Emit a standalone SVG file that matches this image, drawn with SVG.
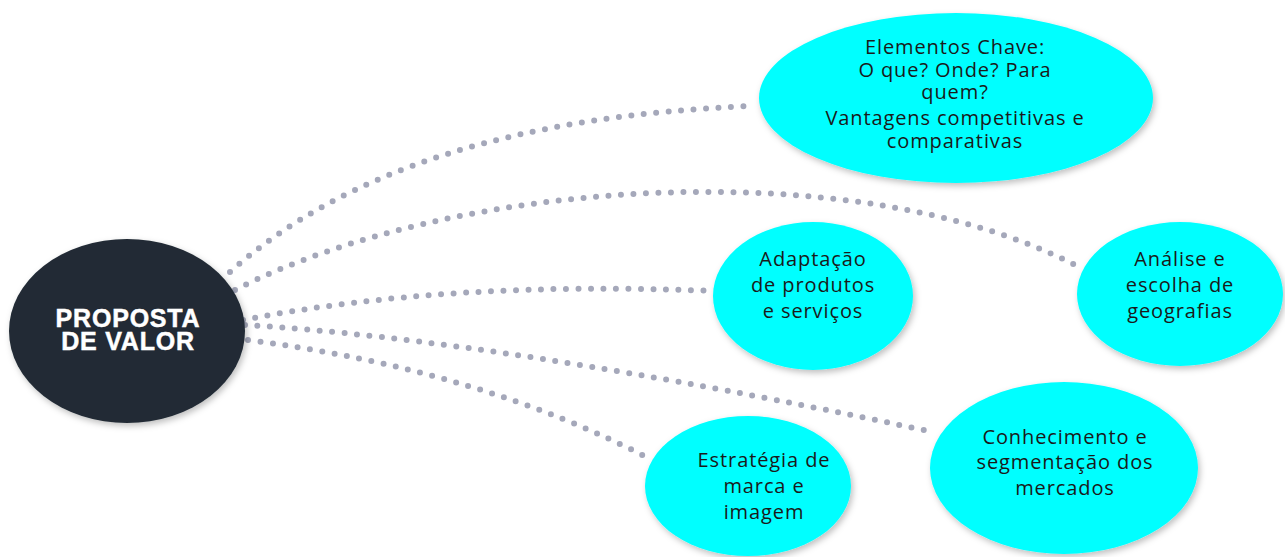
<svg xmlns="http://www.w3.org/2000/svg" width="1285" height="557" viewBox="0 0 1285 557">
<defs>
<filter id="sh" x="-20%" y="-20%" width="140%" height="140%">
<feDropShadow dx="2" dy="3" stdDeviation="3" flood-color="#000" flood-opacity="0.25"/>
</filter>
<style>
.conn{fill:none;stroke:#a5a8ba;stroke-width:6;stroke-linecap:round;stroke-dasharray:0 12.5}
.bub{fill:#00ffff;filter:url(#sh)}
.main{fill:#212b35;filter:url(#sh)}
.t{font-family:"Open Sans","Noto Sans","Liberation Sans",sans-serif;font-size:20px;letter-spacing:0.9px;fill:#1a1a1a;text-anchor:middle}
.m{font-family:"Liberation Sans",Arial,sans-serif;font-weight:bold;font-size:25px;letter-spacing:0.8px;fill:#ffffff;stroke:#ffffff;stroke-width:0.5;text-anchor:middle}
</style>
</defs>
<rect width="1285" height="557" fill="#ffffff"/>
<g id="connectors">
<path class="conn" d="M230,272 Q400,120 752,106"/>
<path class="conn" d="M235,290 C450,180 850,150 1075,265"/>
<path class="conn" d="M243,320 Q450,280 713,291"/>
<path class="conn" d="M245,325 Q500,340 933,432"/>
<path class="conn" d="M248,340 Q480,370 652,460"/>
</g>
<g id="proposta">
<ellipse class="main" cx="127" cy="331" rx="118" ry="92"/>
<text class="m" x="128" y="327">PROPOSTA</text>
<text class="m" x="128" y="350">DE VALOR</text>
</g>
<g id="elementos">
<ellipse class="bub" cx="956" cy="98" rx="197" ry="85"/>
<text class="t" x="955" y="54">Elementos Chave:</text>
<text class="t" x="955" y="77">O que? Onde? Para</text>
<text class="t" x="955" y="99">quem?</text>
<text class="t" x="955" y="125">Vantagens competitivas e</text>
<text class="t" x="955" y="148">comparativas</text>
</g>
<g id="adaptacao">
<ellipse class="bub" cx="813" cy="296" rx="100" ry="74"/>
<text class="t" x="813" y="266">Adaptação</text>
<text class="t" x="813" y="292">de produtos</text>
<text class="t" x="813" y="318">e serviços</text>
</g>
<g id="analise">
<ellipse class="bub" cx="1180" cy="294" rx="103" ry="72"/>
<text class="t" x="1180" y="266">Análise e</text>
<text class="t" x="1180" y="292">escolha de</text>
<text class="t" x="1180" y="318">geografias</text>
</g>
<g id="conhecimento">
<ellipse class="bub" cx="1064" cy="468" rx="134" ry="86"/>
<text class="t" x="1065" y="444">Conhecimento e</text>
<text class="t" x="1065" y="469">segmentação dos</text>
<text class="t" x="1065" y="495">mercados</text>
</g>
<g id="estrategia">
<ellipse class="bub" cx="748" cy="486" rx="103" ry="70"/>
<text class="t" x="764" y="467">Estratégia de</text>
<text class="t" x="764" y="493">marca e</text>
<text class="t" x="764" y="519">imagem</text>
</g>
</svg>
